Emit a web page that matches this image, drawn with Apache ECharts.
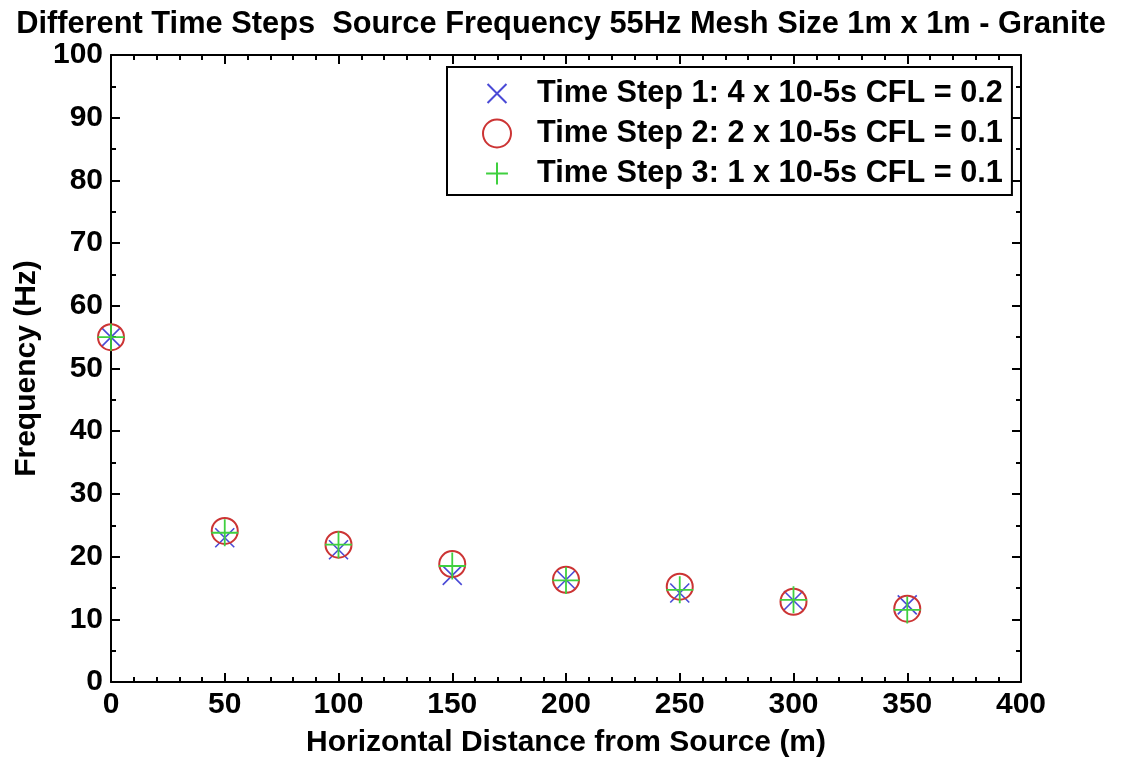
<!DOCTYPE html>
<html>
<head>
<meta charset="utf-8">
<script src="https://cdn.jsdelivr.net/npm/echarts@6/dist/echarts.min.js"></script>
<style>
html, body { margin: 0; padding: 0; background: #fff; }
#chart { width: 1122px; height: 757px; }
</style>
</head>
<body>
<div id="chart"></div>
<script>
// horizontal distance (m)
var distance = [0, 50, 100, 150, 200, 250, 300, 350];
// frequency (Hz) for each time step
var step1 = [55, 23.0, 21.1, 17.0, 16.3, 14.2, 13.0, 12.3];
var step2 = [55, 24.1, 21.9, 18.8, 16.3, 15.2, 12.8, 11.7];
var step3 = [55, 23.8, 21.9, 18.5, 16.2, 14.7, 13.1, 11.5];
var seriesNames = [
    'Time Step 1: 4 x 10-5s CFL = 0.2',
    'Time Step 2: 2 x 10-5s CFL = 0.1',
    'Time Step 3: 1 x 10-5s CFL = 0.1'
];

var FONT = '"Liberation Sans", Arial, sans-serif';
var X_PATH = 'path://M0,0L10,10M10,0L0,10';
var PLUS_PATH = 'path://M5,0L5,10M0,5L10,5';

function pairs(ys) {
    var out = [];
    for (var i = 0; i < distance.length; i++) {
        out.push([distance[i], ys[i]]);
    }
    return out;
}

function axisBase(extra) {
    var a = {
        axisLine: {show: true, onZero: false, lineStyle: {color: '#000', width: 2}},
        axisTick: {show: true, inside: true, length: 9, lineStyle: {color: '#000', width: 2}},
        splitLine: {show: false},
        axisLabel: {show: false}
    };
    for (var k in extra) a[k] = extra[k];
    return a;
}

function minor(n) {
    return {show: true, splitNumber: n, length: 5, lineStyle: {color: '#000', width: 2}};
}

var tickLabel = {show: true, color: '#000', fontFamily: FONT, fontWeight: 'bold', fontSize: 30, margin: 8};
var nameStyle = {color: '#000', fontFamily: FONT, fontWeight: 'bold', fontSize: 30};

var option = {
    backgroundColor: '#fff',
    animation: false,
    title: {
        text: 'Different Time Steps  Source Frequency 55Hz Mesh Size 1m x 1m - Granite',
        left: 'center',
        top: 4,
        textStyle: {color: '#000', fontFamily: FONT, fontWeight: 'bold', fontSize: 30.8}
    },
    legend: {
        orient: 'vertical',
        left: 447,
        top: 67,
        padding: [11, 9, 6, 35],
        itemWidth: 70,
        itemHeight: 28,
        itemGap: 9,
        borderColor: '#000',
        borderWidth: 2,
        backgroundColor: '#fff',
        textStyle: {color: '#000', fontFamily: FONT, fontWeight: 'bold', fontSize: 30.7, lineHeight: 30},
        data: [
            // extra move-to points pad the icons so they come out smaller than the circle
            {name: seriesNames[0], icon: 'path://M-2.4,-2.4M0,0L10,10M10,0L0,10M12.4,12.4'},
            {name: seriesNames[1], icon: 'circle'},
            {name: seriesNames[2], icon: 'path://M-1.4,-1.4M5,0L5,10M0,5L10,5M11.4,11.4'}
        ]
    },
    grid: {left: 111, right: 101, top: 55, bottom: 75, outerBoundsMode: 'none'},
    xAxis: [
        axisBase({
            type: 'value', min: 0, max: 400, interval: 50,
            minorTick: minor(5),
            axisLabel: tickLabel,
            name: 'Horizontal Distance from Source (m)',
            nameLocation: 'middle',
            nameGap: 46,
            nameTextStyle: nameStyle
        }),
        axisBase({type: 'value', position: 'top', min: 0, max: 400, interval: 50, minorTick: minor(5)})
    ],
    yAxis: [
        axisBase({
            type: 'value', min: 0, max: 100, interval: 10,
            minorTick: minor(2),
            axisLabel: tickLabel,
            name: 'Frequency (Hz)',
            nameLocation: 'middle',
            nameGap: 69,
            nameTextStyle: nameStyle
        }),
        axisBase({type: 'value', position: 'right', min: 0, max: 100, interval: 10, minorTick: minor(2)})
    ],
    series: [
        {
            name: seriesNames[0],
            type: 'scatter',
            data: pairs(step1),
            symbol: X_PATH,
            symbolSize: 19,
            itemStyle: {color: 'transparent', borderColor: '#4a4ad6', borderWidth: 1.6, opacity: 1}
        },
        {
            name: seriesNames[1],
            type: 'scatter',
            data: pairs(step2),
            symbol: 'circle',
            symbolSize: 26,
            itemStyle: {color: 'transparent', borderColor: '#cc3434', borderWidth: 2, opacity: 1}
        },
        {
            name: seriesNames[2],
            type: 'scatter',
            data: pairs(step3),
            symbol: PLUS_PATH,
            symbolSize: 27,
            itemStyle: {color: 'transparent', borderColor: '#3fd03f', borderWidth: 1.8, opacity: 1}
        }
    ]
};

var chart = echarts.init(document.getElementById('chart'));
chart.setOption(option);
</script>
</body>
</html>
